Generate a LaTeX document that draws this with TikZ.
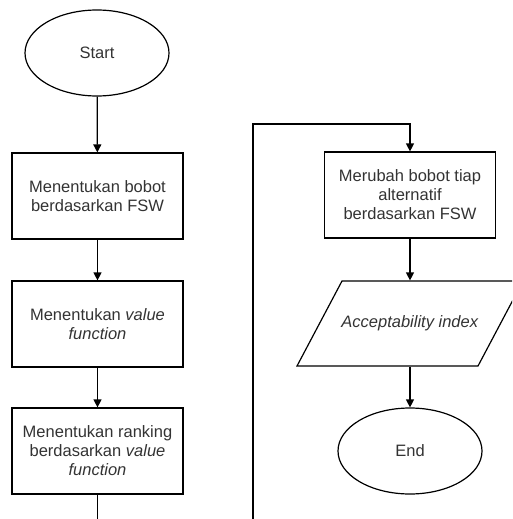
\documentclass[tikz,border=0pt]{standalone}
\usepackage{fontspec}
\setmainfont{Liberation Sans}
\usetikzlibrary{shapes.geometric,arrows.meta}
\definecolor{txt}{HTML}{333333}
\tikzset{
  base/.style={font=\fontsize{16.5}{19}\selectfont, text=txt, align=center, line width=1.2pt, draw=black},
  procbox/.style={base, rectangle, minimum width=171pt, minimum height=86pt, inner sep=0pt},
  term/.style={base, ellipse, minimum width=144pt, minimum height=86pt, inner sep=0pt},
  iobox/.style={base, draw=none, rectangle, minimum width=181pt, minimum height=85pt, inner sep=0pt},
  arr/.style={line width=1.2pt, -{Triangle[length=8pt,width=8pt]}},
  ln/.style={line width=1.2pt}
}
\begin{document}
\begin{tikzpicture}[x=1pt,y=-1pt]
\useasboundingbox (0,0) rectangle (512,519);
\node[term] (start) at (97,53) {Start};
\node[procbox] (b1) at (97.5,196) {Menentukan bobot\\berdasarkan FSW};
\node[procbox] (b2) at (97.5,324) {Menentukan \textit{value}\\\textit{function}};
\node[procbox] (b3) at (97.5,451) {Menentukan ranking\\berdasarkan \textit{value}\\\textit{function}};
\node[procbox] (b4) at (410,195) {Merubah bobot tiap\\alternatif\\berdasarkan FSW};
\node[iobox] (io) at (410,323.5) {\textit{Acceptability index}};
\begin{scope}
\clip (0,0) rectangle (512,519);
\draw[ln] (342,281) -- (523,281) -- (478,366) -- (297,366) -- cycle;
\end{scope}
\node[term] (end) at (410,451) {End};
\coordinate (c1) at (97.5,519);
\coordinate (c2) at (253,519);
\coordinate (top) at (253,124);
\draw[arr] (start) -- (b1);
\draw[arr] (b1) -- (b2);
\draw[arr] (b2) -- (b3);
\draw[ln] (b3) -- (c1);
\draw[arr] (c2) -- (top) -| (b4.north);
\draw[arr] (b4) -- (io.north);
\draw[arr] (io.south) -- (end);
\end{tikzpicture}
\end{document}
